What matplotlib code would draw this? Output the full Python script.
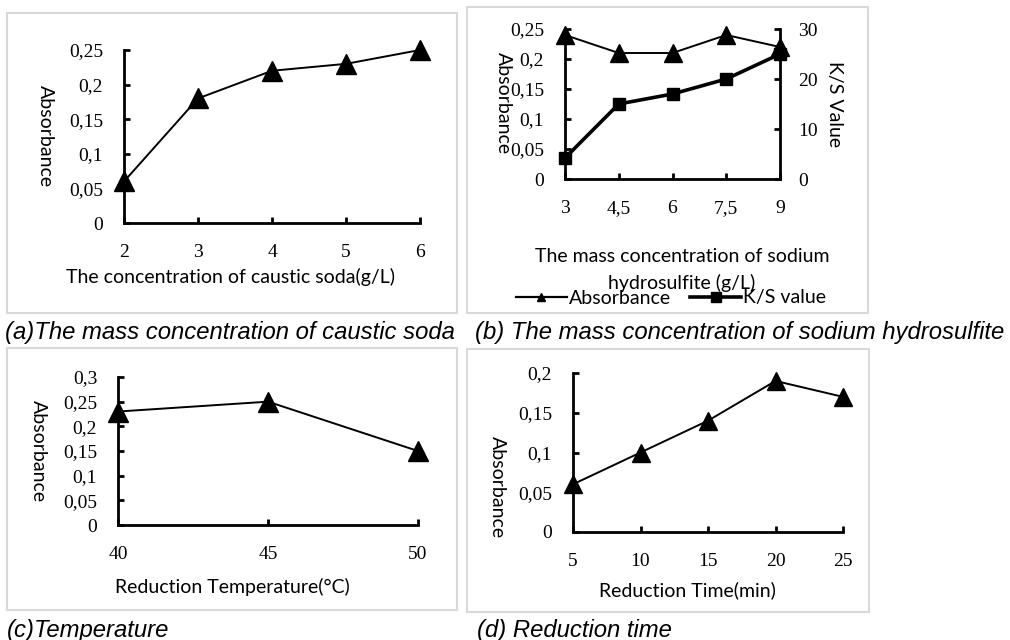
import matplotlib
matplotlib.use('Agg')
import matplotlib.pyplot as plt
from matplotlib.patches import Rectangle
from matplotlib.ticker import FuncFormatter, MultipleLocator
from matplotlib.lines import Line2D

# data
soda_conc = [2, 3, 4, 5, 6]
soda_abs = [0.06, 0.18, 0.22, 0.23, 0.25]

hydro_conc = [3, 4.5, 6, 7.5, 9]
hydro_abs = [0.24, 0.21, 0.21, 0.24, 0.22]
hydro_ks = [4.2, 15, 17, 20, 25]

temps = [40, 45, 50]
temp_abs = [0.23, 0.25, 0.15]

times = [5, 10, 15, 20, 25]
time_abs = [0.06, 0.10, 0.14, 0.19, 0.17]

W, H = 1010, 640
fig = plt.figure(figsize=(W / 100, H / 100), dpi=100)

SERIF = 'Liberation Serif'
SANS = 'Lato'
CAP = 'Liberation Sans'
LBL = 14
comma = FuncFormatter(lambda v, _: f'{v:g}'.replace('.', ','))


def px_axes(x0, y0, x1, y1):
    return fig.add_axes([x0 / W, 1 - y1 / H, (x1 - x0) / W, (y1 - y0) / H])


def box(x0, y0, x1, y1):
    fig.patches.append(Rectangle((x0 / W, 1 - y1 / H), (x1 - x0) / W, (y1 - y0) / H,
                                 transform=fig.transFigure, fill=False,
                                 edgecolor='#d9d9d9', linewidth=1.5))


def ftext(x, y, s, **kw):
    fig.text(x / W, 1 - y / H, s, **kw)


def style(ax, xlim, ylim, ystep):
    ax.set_xlim(*xlim)
    ax.set_ylim(*ylim)
    ax.yaxis.set_major_locator(MultipleLocator(ystep))
    ax.xaxis.set_major_formatter(comma)
    ax.yaxis.set_major_formatter(comma)
    for s in ['top', 'right']:
        ax.spines[s].set_visible(False)
    for s in ['left', 'bottom']:
        ax.spines[s].set_linewidth(2)
    ax.tick_params(direction='in', length=4, width=2, labelsize=14, pad=15)
    for lab in ax.get_xticklabels() + ax.get_yticklabels():
        lab.set_fontfamily(SERIF)
    ax.patch.set_alpha(0)


# panel frames
box(7, 13, 457, 313)
box(467, 7, 868, 313)
box(7, 348, 457, 610)
box(467, 349, 869, 612)

# (a) caustic soda
ax = px_axes(124, 50, 420, 223)
ax.plot(soda_conc, soda_abs, color='black', lw=1.4, marker='^', ms=15, clip_on=False)
ax.set_xticks(soda_conc)
style(ax, (2, 6), (0, 0.25), 0.05)
ftext(45, 136, 'Absorbance', rotation=270, ha='center', va='center', family=SANS, fontsize=LBL)
ftext(230, 277, 'The concentration of caustic soda(g/L)', ha='center', va='center',
      family=SANS, fontsize=LBL)

# (b) sodium hydrosulfite, twin axis
ax = px_axes(565, 29, 780, 179)
ax.plot(hydro_conc, hydro_abs, color='black', lw=1.4, marker='^', ms=13, clip_on=False)
ax.set_xticks(hydro_conc)
style(ax, (3, 9), (0, 0.25), 0.05)
ax2 = ax.twinx()
ax2.plot(hydro_conc, hydro_ks, color='black', lw=2.6, marker='s', ms=9, clip_on=False)
ax2.set_ylim(0, 30)
ax2.yaxis.set_major_locator(MultipleLocator(10))
for s in ['top', 'left', 'bottom']:
    ax2.spines[s].set_visible(False)
ax2.spines['right'].set_linewidth(2)
ax2.tick_params(direction='in', length=4, width=2, labelsize=14, pad=13)
for lab in ax2.get_yticklabels():
    lab.set_fontfamily(SERIF)
ftext(503, 103, 'Absorbance', rotation=270, ha='center', va='center', family=SANS, fontsize=LBL)
ftext(835, 104, 'K/S Value', rotation=270, ha='center', va='center', family=SANS, fontsize=LBL)
ftext(682, 257, 'The mass concentration of sodium', ha='center', va='center',
      family=SANS, fontsize=LBL)
ftext(682, 283, 'hydrosulfite (g/L)', ha='center', va='center', family=SANS, fontsize=LBL)
handles = [Line2D([], [], color='black', lw=1.6, marker='^', ms=6),
           Line2D([], [], color='black', lw=2.6, marker='s', ms=7)]
fig.legend(handles, ['Absorbance', 'K/S value'], loc='center',
           bbox_to_anchor=(671 / W, 1 - 298 / H), ncol=2, frameon=False,
           prop={'family': SANS, 'size': LBL}, handlelength=2.6, handletextpad=0.1,
           columnspacing=1.0, borderpad=0)

# (c) temperature
ax = px_axes(118, 377, 418, 525)
ax.plot(temps, temp_abs, color='black', lw=1.4, marker='^', ms=15, clip_on=False)
ax.set_xticks(temps)
style(ax, (40, 50), (0, 0.3), 0.05)
ftext(38, 451, 'Absorbance', rotation=270, ha='center', va='center', family=SANS, fontsize=LBL)
ftext(232, 587, 'Reduction Temperature(°C)', ha='center', va='center', family=SANS, fontsize=LBL)

# (d) reduction time
ax = px_axes(573, 373, 843, 532)
ax.plot(times, time_abs, color='black', lw=1.4, marker='^', ms=13, clip_on=False)
ax.set_xticks(times)
style(ax, (5, 25), (0, 0.2), 0.05)
ftext(497, 487, 'Absorbance', rotation=270, ha='center', va='center', family=SANS, fontsize=LBL)
ftext(687, 590, 'Reduction Time(min)', ha='center', va='center', family=SANS, fontsize=LBL)

# captions
cap = dict(family=CAP, style='italic', fontsize=17.2, va='center', ha='left')
ftext(5, 332, '(a)The mass concentration of caustic soda', **cap)
ftext(475, 332, '(b) The mass concentration of sodium hydrosulfite', **cap)
ftext(7, 630, '(c)Temperature', **cap)
ftext(477, 630, '(d) Reduction time', **cap)

fig.savefig('out.png', dpi=100)
